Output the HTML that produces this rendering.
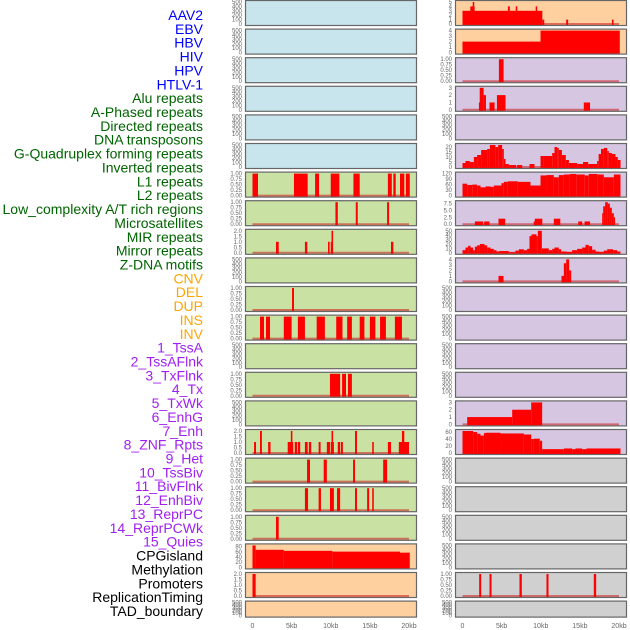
<!DOCTYPE html>
<html><head><meta charset="utf-8">
<style>
html,body{margin:0;padding:0;background:#fff;}
svg{display:block;font-family:"Liberation Sans",sans-serif;}
</style></head>
<body>
<svg id="chart" width="630" height="630" viewBox="0 0 630 630" xmlns="http://www.w3.org/2000/svg"></svg>
<script>
// ---------- data ----------
const labels = ["AAV2","EBV","HBV","HIV","HPV","HTLV-1","Alu repeats","A-Phased repeats","Directed repeats","DNA transposons","G-Quadruplex forming repeats","Inverted repeats","L1 repeats","L2 repeats","Low_complexity A/T rich regions","Microsatellites","MIR repeats","Mirror repeats","Z-DNA motifs","CNV","DEL","DUP","INS","INV","1_TssA","2_TssAFlnk","3_TxFlnk","4_Tx","5_TxWk","6_EnhG","7_Enh","8_ZNF_Rpts","9_Het","10_TssBiv","11_BivFlnk","12_EnhBiv","13_ReprPC","14_ReprPCWk","15_Quies","CPGisland","Methylation","Promoters","ReplicationTiming","TAD_boundary"];
const labelColors = {blue:"#0000ff",green:"#006400",orange:"#ffa500",purple:"#a020f0",black:"#000000"};
const labelGroups = ["blue","blue","blue","blue","blue","blue","green","green","green","green","green","green","green","green","green","green","green","green","green","orange","orange","orange","orange","orange","purple","purple","purple","purple","purple","purple","purple","purple","purple","purple","purple","purple","purple","purple","purple","black","black","black","black","black"];
const xTickLabels = ["0","5kb","10kb","15kb","20kb"];
const xTickValues = [0,5,10,15,20];

const emptyTicks = [0,100,200,300,400,500];
const binTicks = [0,0.25,0.5,0.75,1];
const twoTicks = [0,0.5,1,1.5,2];

// left column segments [startKb, endKb, value]
const L6 = [[0,0.7,1],[5.3,7.05,1],[8.0,8.5,1],[10.0,11.1,1],[12.9,13.7,1],[17.3,17.8,1],[18.0,18.3,1],[18.85,19.4,1],[19.6,20.1,1]];
const L7 = [[10.6,10.9,1],[13.2,13.45,1],[17.2,17.45,1]];
const L8 = [[3.0,3.35,1],[6.7,7.0,1],[9.65,9.85,1],[10.0,10.1,1],[10.1,10.3,2],[17.7,18.0,1]];
const L10 = [[5.05,5.3,1]];
const L11 = [[0.96,1.47,1],[1.72,2.24,1],[4.0,5.0,1],[5.8,6.7,1],[8.2,9.25,1],[10.7,11.5,1],[12.1,12.7,1],[13.7,14.3,1],[15.0,15.7,1],[16.3,17.05,1],[18.2,19.1,1]];
const L13 = [[9.9,11.2,1],[11.45,11.95,1],[12.2,12.7,1]];
const L15 = [[0.2,0.45,1],[0.96,1.2,2],[2.0,2.3,1],[4.5,5.2,1],[4.9,5.1,2],[5.4,5.7,1],[5.8,6.1,1],[6.7,7.05,1],[7.2,7.5,1],[8.45,8.7,1],[9.5,9.9,1],[10.0,10.4,1],[10.1,10.3,2],[10.9,11.2,1],[11.3,11.55,1],[13.1,13.35,2],[15.3,15.5,1],[17.3,17.7,1],[18.7,20.0,1],[19.1,19.4,2]];
const L16 = [[6.97,7.35,1],[9.1,9.5,1],[12.85,13.1,1],[16.7,17.2,1]];
const L17 = [[6.7,7.1,1],[8.45,8.75,1],[9.9,10.4,1],[10.8,11.2,1],[13.1,13.35,1],[14.65,14.9,1],[15.3,15.5,1]];
const L18 = [[3.0,3.35,1]];
const L19 = [[0,0.4,85],[0.4,4.0,68],[4.0,10.2,64],[10.2,18.85,61],[18.85,20.1,57]];
const L20 = [[0,0.4,2]];

// right column
const R0 = [[0,10.2,3],[1.0,1.55,4],[1.3,1.5,5],[5.8,6.05,4],[6.8,7.0,4],[9.35,9.55,4],[10.2,10.45,1],[13.25,13.5,1],[19.1,19.3,1]];
const R1 = [[0,9.97,2],[9.97,20.1,4]];
const R2 = [[4.65,5.25,1]];
const R3 = [[2.1,2.3,1],[2.2,2.7,3],[2.7,3.0,2],[3.45,4.1,1],[4.4,5.5,2],[15.5,16.3,1]];
const R5 = [[0,0.38,4],[0.38,0.94,6],[0.94,1.45,5],[1.45,1.87,10],[1.87,2.38,12],[2.38,3.15,17],[3.15,3.5,18],[3.5,4.2,22],[4.2,4.56,20],[4.56,5.07,22],[5.07,5.28,18],[5.28,5.5,8],[5.5,5.92,3],[5.92,6.86,2],[6.98,7.63,2],[8.56,9.2,3],[9.97,10.4,11],[10.4,11.46,11],[11.46,11.76,14],[11.76,12.1,20],[12.1,12.31,19],[12.31,12.7,17],[12.7,13.2,12],[13.2,13.6,7],[13.6,14.65,4],[14.65,15.4,3],[15.4,16.06,5],[16.06,17.2,3],[17.2,17.4,6],[17.4,17.7,13],[17.7,18.06,18],[18.06,18.5,19],[18.5,18.7,16],[18.7,19.1,14],[19.1,19.55,13],[19.55,19.85,10],[19.85,20.2,7]];
const R6_edges = [0,0.6,1.24,1.87,2.3,2.94,3.58,4.0,4.98,5.28,5.79,7.07,8.69,9.97,10.73,11.67,12.31,12.95,13.72,14.53,15.63,16.14,17.21,18.06,19.34,20.19];
const R6_vals = [65,58,60,55,45,50,48,55,68,75,78,75,55,110,112,100,112,115,118,115,110,118,115,100,115];
const R7 = [[1.58,2.64,1],[2.77,3.45,1],[4.6,5.45,2],[9.1,9.4,1],[9.24,10.2,2],[11.67,12.5,2],[14.8,15.3,1],[15.6,16.3,1],[17.85,17.98,4],[17.98,18.23,6.5],[18.23,18.57,8],[18.57,18.83,7.5],[18.83,19.08,6],[19.08,19.34,4],[19.34,19.5,2.5]];
const R8_edges = [0,0.38,0.72,1.02,1.36,1.58,1.87,2.22,2.81,3.15,3.58,4.0,4.35,4.64,5.92,6.77,7.2,7.84,8.26,8.56,8.82,9.46,9.63,10.14,11.03,11.46,11.76,12.31,12.61,13.29,14.01,14.65,15.29,15.72,16.14,16.57,17.0,17.42,18.06,18.49,19.25,19.77,20.19];
const R8_vals = [6,12,16,12,6,14,17,20,17,12,9,6,3,4,1,5,8,6,9,38,42,38,50,10,6,9,12,8,3,2,6,9,12,18,15,7,3,2,5,8,6,3];
const R9 = [[4.6,5.24,1],[12.65,13.0,1],[12.95,13.25,3.3],[13.25,13.63,4],[13.63,13.89,2]];
const R14 = [[0.6,6.35,1],[6.35,8.78,2],[8.78,10.18,3]];
const R15_edges = [0,1.36,1.87,2.3,2.73,2.94,4.86,7.84,8.78,9.12,9.88,10.18,12.95,14.01,14.44,15.29,15.84,20.19];
const R15_vals = [63,60,55,50,57,58,56,53,40,41,35,11,13,11,13,11,13];
const R20 = [[2.13,2.39,1],[3.45,3.71,1],[7.28,7.58,1],[10.73,10.99,1],[16.78,17.08,1]];

// ---------- layout ----------
const COL = {blue:"#c8e4ec",green:"#c9e1a2",orange:"#ffd09f",purple:"#d6c6e2",gray:"#d0d0d0"};
function edgesToSegs(e,v){const s=[];for(let i=0;i<v.length;i++)s.push([e[i],e[i+1],v[i]]);return s;}
const leftCols = ["blue","blue","blue","blue","blue","blue","green","green","green","green","green","green","green","green","green","green","green","green","green","orange","orange","orange"];
const rightCols = ["orange","orange","purple","purple","purple","purple","purple","purple","purple","purple","purple","purple","purple","purple","purple","purple","gray","gray","gray","gray","gray","gray"];
const leftData = {6:[L6,1,binTicks],7:[L7,1,binTicks],8:[L8,2,twoTicks],10:[L10,1,binTicks],11:[L11,1,binTicks],13:[L13,1,binTicks],15:[L15,2,twoTicks],16:[L16,1,binTicks],17:[L17,1,binTicks],18:[L18,1,binTicks],19:[L19,85,[0,20,40,60,80]],20:[L20,2,twoTicks]};
const rightData = {0:[R0,5,[0,1,2,3,4,5]],1:[R1,4,[0,1,2,3,4]],2:[R2,1,binTicks],3:[R3,3,[0,1,2,3]],5:[R5,22,[0,5,10,15,20]],6:[edgesToSegs(R6_edges,R6_vals),120,[0,30,60,90,120]],7:[R7,8,[0,2.5,5,7.5]],8:[edgesToSegs(R8_edges,R8_vals),50,[0,10,20,30,40,50]],9:[R9,4,[0,1,2,3,4]],14:[R14,3,[0,1,2,3]],15:[edgesToSegs(R15_edges,R15_vals),63,[0,20,40,60]],20:[R20,1,binTicks]};

const NS="http://www.w3.org/2000/svg";
const svg=document.getElementById("chart");
function mk(tag,attrs,parent){const e=document.createElementNS(NS,tag);for(const k in attrs)e.setAttribute(k,attrs[k]);(parent||svg).appendChild(e);return e;}
const rowTop=i=>0.5+28.6*i;
const rowH=i=>i===21?16:25;
const KB=7.825;
function fmt(t,ticks){
  if(ticks===binTicks) return t.toFixed(2);
  if(ticks===twoTicks) return t.toFixed(1);
  if(ticks.some(v=>v%1!==0)) return t.toFixed(1);
  return String(t);
}

function drawPanel(col,i,x0,color,spec){
  const top=rowTop(i),h=rowH(i),W=171;
  const g=mk("g",{});
  
  
  const bg=mk("rect",{x:x0,y:top,width:W,height:h,fill:COL[color]},g);
  
  
  const segs=spec?spec[0]:[];
  const ymax=spec?spec[1]:500;
  const ticks=spec?spec[2]:emptyTicks;
  const bottom=top+h;
  const ys=v=>bottom-1.5-(v/ymax)*(h-3);
  const xs=kb=>x0+7+kb*KB;
  ticks.forEach(t=>{
    const tx=mk("text",{x:x0-3.5,y:ys(t)+2,"font-size":"6","fill":"#666","text-anchor":"end"},g);
    tx.textContent=fmt(t,ticks);
    
    
  });
  if(spec){
    const bl=mk("line",{x1:xs(0),x2:xs(20),y1:ys(0),y2:ys(0),stroke:"rgba(205,40,40,0.6)","stroke-width":2},g);
    
    
    segs.forEach(s=>{
      const r=mk("rect",{x:xs(s[0]),y:ys(s[2]),width:Math.max(0.8,xs(s[1])-xs(s[0])),height:ys(0)-ys(s[2])+1,fill:"#ff0000"},g);
      
      
    });
  }
  const br=mk("rect",{x:x0,y:top,width:W,height:h,fill:"none",stroke:"#666","stroke-width":1.2},g);
  
  
}

for(let i=0;i<22;i++){
  drawPanel("left",i,245.5,leftCols[i],leftData[i]);
  drawPanel("right",i,455.5,rightCols[i],rightData[i]);
}

[245.5,455.5].forEach((x0,ci)=>{
  xTickValues.forEach((v,k)=>{
    const t=mk("text",{x:x0+7+v*KB,y:628,"font-size":"7","fill":"#666","text-anchor":"middle"});
    t.textContent=xTickLabels[k];
    
    
  });
});

labels.forEach((l,i)=>{
  const y=20+13.86*i;
  const t=mk("text",{x:203,y:y,"font-size":"14","fill":labelColors[labelGroups[i]],"text-anchor":"end"});
  t.textContent=l;
  
  
});
</script>
</body></html>
